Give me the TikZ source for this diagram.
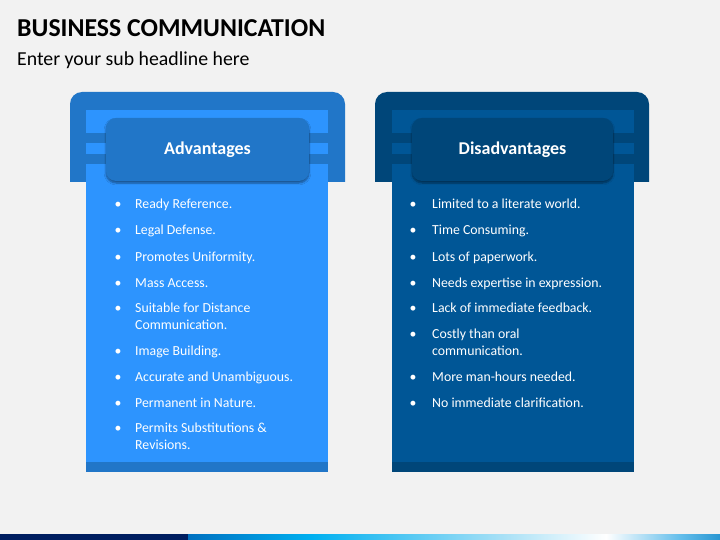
\documentclass[tikz,border=0pt]{standalone}
\usepackage{fontspec}
\setmainfont{Carlito}
\usetikzlibrary{shadows.blur}
\definecolor{bgc}{RGB}{242,242,242}
\definecolor{lout}{RGB}{33,118,200}
\definecolor{lin}{RGB}{45,148,254}
\definecolor{rout}{RGB}{0,70,121}
\definecolor{rin}{RGB}{0,86,150}
\definecolor{navy}{RGB}{0,30,96}
\definecolor{g1}{RGB}{0,112,192}
\definecolor{g2}{RGB}{0,176,240}
\definecolor{g3}{RGB}{170,225,246}
\definecolor{g5}{RGB}{100,190,235}
\definecolor{g6}{RGB}{40,150,210}
\tikzset{
  hdrbox/.style={rounded corners=10pt, blur shadow={shadow xshift=0pt, shadow yshift=-2pt, shadow blur steps=6, shadow opacity=45}},
  hdrtext/.style={text=white, font=\fontsize{18}{21}\selectfont\bfseries},
  itemtext/.style={text=white, anchor=base west, inner sep=0pt, font=\fontsize{13.8}{17}\selectfont, align=left},
  bul/.style={text=white, anchor=base, inner sep=0pt, font=\fontsize{13.8}{17}\selectfont},
}
\begin{document}
\begin{tikzpicture}[x=1pt,y=-1pt]
\useasboundingbox (0,0) rectangle (720,540);
\fill[bgc] (0,0) rectangle (720,540);
% title
\node[anchor=base west, inner sep=0pt, font=\fontsize{25.8}{30}\selectfont\bfseries] (title) at (17,37) {BUSINESS COMMUNICATION};
\node[anchor=base west, inner sep=0pt, font=\fontsize{19.8}{22}\selectfont] (sub) at (17,66) {Enter your sub headline here};
% footer
\fill[navy] (0,534) rectangle (188,540);
\shade[left color=g1, right color=g2] (188,534) rectangle (312,540);
\shade[left color=g2, right color=g3] (312,534) rectangle (505,540);
\shade[left color=g3, right color=white] (505,534) rectangle (606,540);
\shade[left color=white, right color=g5] (606,534) rectangle (680,540);
\shade[left color=g5, right color=g6] (680,534) rectangle (720,540);
% ---------- left panel
\fill[lout] (70,182) {[rounded corners=12pt] -- (70,92) -- (345,92)} -- (345,182) -- cycle;
\fill[lin] (86,110) rectangle (328,462);
\fill[lout] (86,462) rectangle (328,472);
\fill[lout] (86,133) rectangle (328,143);
\fill[lout] (86,154) rectangle (328,164);
\fill[lout, hdrbox] (106,118) rectangle (309,181);
\node[hdrtext] (adv) at (207.5,150) {Advantages};
% ---------- right panel
\fill[rout] (375,182) {[rounded corners=12pt] -- (375,92) -- (649,92)} -- (649,182) -- cycle;
\fill[rin] (392,110) rectangle (634,462);
\fill[rout] (392,462) rectangle (634,472);
\fill[rout] (392,133) rectangle (634,143);
\fill[rout] (392,154) rectangle (634,164);
\fill[rout, hdrbox] (412,118) rectangle (613,181);
\node[hdrtext] (dis) at (512.5,150) {Disadvantages};
% left items
\foreach \b/\y/\t [count=\i] in {209/209/{Ready Reference.},235/235/{Legal Defense.},261/261/{Promotes Uniformity.},287/287/{Mass Access.},312/329/{Suitable for Distance\\Communication.},355/355/{Image Building.},381/381/{Accurate and Unambiguous.},407/407/{Permanent in Nature.},432/449/{Permits Substitutions \&\\Revisions.}}{
  \node[bul] (lb\i) at (118,\b) {•};
  \node[itemtext] (li\i) at (135,\y) {\t};
}
% right items
\foreach \b/\y/\t [count=\i] in {209/209/{Limited to a literate world.},235/235/{Time Consuming.},261/261/{Lots of paperwork.},287/287/{Needs expertise in expression.},312/312/{Lack of immediate feedback.},338/355/{Costly than oral\\communication.},381/381/{More man-hours needed.},407/407/{No immediate clarification.}}{
  \node[bul] (rb\i) at (413,\b) {•};
  \node[itemtext] (ri\i) at (432,\y) {\t};
}
\end{tikzpicture}
\end{document}
